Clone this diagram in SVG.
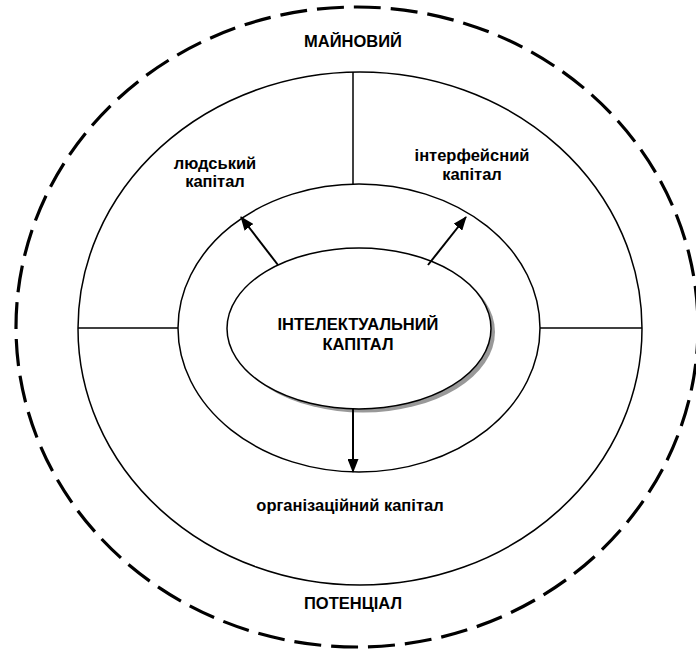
<svg xmlns="http://www.w3.org/2000/svg" width="696" height="649" viewBox="0 0 696 649">
<style>
.ln{fill:none;stroke:#000;stroke-width:1.5}
.ar{fill:none;stroke:#000;stroke-width:2}
.t{font-family:"Liberation Sans",Arial,sans-serif;font-weight:bold;fill:#000;text-anchor:middle;font-size:16.5px}
</style>
<defs>
<marker id="ah" markerWidth="14" markerHeight="11" refX="13" refY="5.5" orient="auto" markerUnits="userSpaceOnUse">
<path d="M0,0 L14,5.5 L0,11 Z" fill="#000"/>
</marker>
</defs>
<rect width="696" height="649" fill="#fff"/>
<g id="outer-dashed">
<ellipse cx="357" cy="327" rx="341" ry="320" fill="none" stroke="#000" stroke-width="3.2" stroke-dasharray="27 10"/>
</g>
<g id="outer-ring">
<ellipse class="ln" cx="360" cy="328.5" rx="282" ry="256.5"/>
</g>
<g id="middle-ring">
<ellipse class="ln" cx="359" cy="328" rx="181" ry="144"/>
</g>
<g id="dividers">
<line class="ln" x1="353" y1="72" x2="353" y2="184"/>
<line class="ln" x1="78" y1="328" x2="178" y2="328"/>
<line class="ln" x1="540" y1="328" x2="642" y2="328"/>
</g>
<g id="core">
<ellipse cx="363" cy="332" rx="132" ry="80.5" style="fill:#999;stroke:none"/>
<ellipse cx="359" cy="328.5" rx="132" ry="80.5" style="fill:#fff;stroke:#000;stroke-width:1.5"/>
<text class="t" x="358" y="330">ІНТЕЛЕКТУАЛЬНИЙ</text>
<text class="t" x="358" y="350">КАПІТАЛ</text>
</g>
<g id="connectors">
<line class="ar" x1="278" y1="265" x2="241" y2="217" marker-end="url(#ah)"/>
<line class="ar" x1="428" y1="265" x2="466" y2="217" marker-end="url(#ah)"/>
<line class="ar" x1="353" y1="409" x2="353" y2="472" marker-end="url(#ah)"/>
</g>
<g id="labels">
<text class="t" x="353" y="47">МАЙНОВИЙ</text>
<text class="t" x="215" y="169">людський</text>
<text class="t" x="215" y="187">капітал</text>
<text class="t" x="472" y="161">інтерфейсний</text>
<text class="t" x="472" y="180">капітал</text>
<text class="t" x="350" y="511">організаційний капітал</text>
<text class="t" x="353" y="609">ПОТЕНЦІАЛ</text>
</g>
</svg>
